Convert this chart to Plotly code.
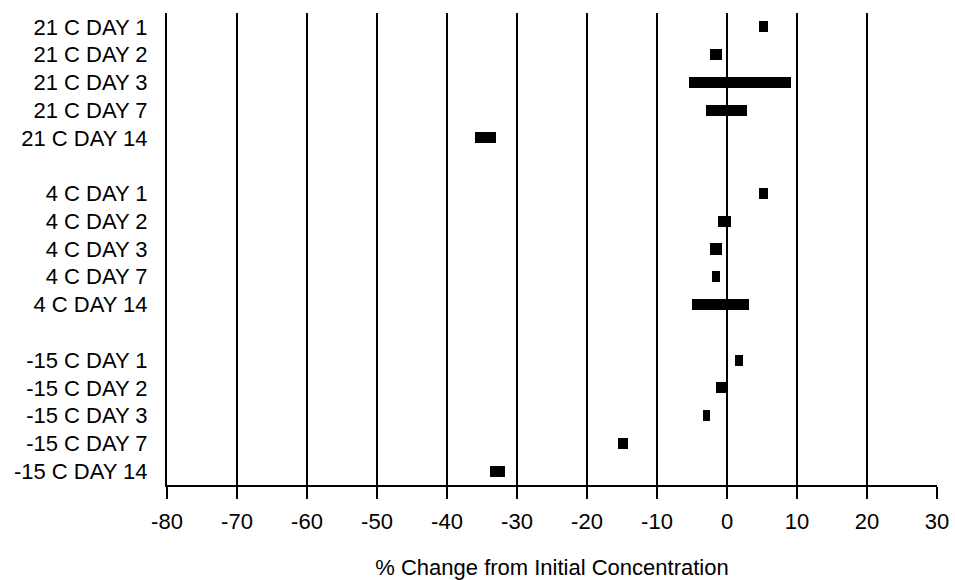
import plotly.graph_objects as go

# Category labels (top to bottom)
labels = [
    "21 C DAY 1", "21 C DAY 2", "21 C DAY 3", "21 C DAY 7", "21 C DAY 14",
    "4 C DAY 1", "4 C DAY 2", "4 C DAY 3", "4 C DAY 7", "4 C DAY 14",
    "-15 C DAY 1", "-15 C DAY 2", "-15 C DAY 3", "-15 C DAY 7", "-15 C DAY 14",
]
# Range of % change (low / high end of each floating bar)
low_vals = [4.5, -2.5, -5.4, -3.0, -36.0,
            4.5, -1.3, -2.5, -2.2, -5.0,
            1.2, -1.6, -3.5, -15.6, -33.8]
high_vals = [5.8, -0.7, 9.2, 2.9, -33.0,
             5.8, 0.5, -0.7, -1.0, 3.1,
             2.3, 0.1, -2.5, -14.1, -31.7]
x_ticks = [-80, -70, -60, -50, -40, -30, -20, -10, 0, 10, 20, 30]
group_size = 5

# positions with one blank row between temperature groups
ypos = [k + k // group_size for k in range(len(labels))]
n_rows = len(labels) + len(labels) // group_size - 1

FONT = "Liberation Sans, Arial, Helvetica, sans-serif"

fig = go.Figure()
fig.add_trace(go.Bar(
    orientation="h",
    y=ypos,
    base=low_vals,
    x=[h - l for l, h in zip(low_vals, high_vals)],
    marker=dict(color="black", line=dict(width=0)),
    width=0.4,
    showlegend=False,
    hoverinfo="skip",
))

fig.update_layout(
    width=955, height=580,
    margin=dict(l=167, r=18, t=13, b=95),
    paper_bgcolor="white", plot_bgcolor="white",
    font=dict(family=FONT, size=22, color="black"),
    bargap=0,
    xaxis=dict(
        range=[-80, 30],
        tickvals=x_ticks,
        ticktext=[str(v) for v in x_ticks],
        showgrid=True, gridcolor="black", gridwidth=1.5,
        zeroline=False,
        showline=True, linecolor="black", linewidth=2,
        ticks="outside", ticklen=12, tickwidth=1.5, tickcolor="black",
        ticklabelstandoff=4,
        automargin=False,
        title=dict(text="% Change from Initial Concentration",
                   font=dict(size=22), standoff=27),
    ),
    yaxis=dict(
        range=[n_rows - 0.5, -0.5],
        tickvals=ypos,
        ticktext=labels,
        showgrid=False, zeroline=False,
        showline=True, linecolor="black", linewidth=2,
        ticks="", ticklabelstandoff=13,
        automargin=False,
    ),
)

fig.write_html("out.html")
